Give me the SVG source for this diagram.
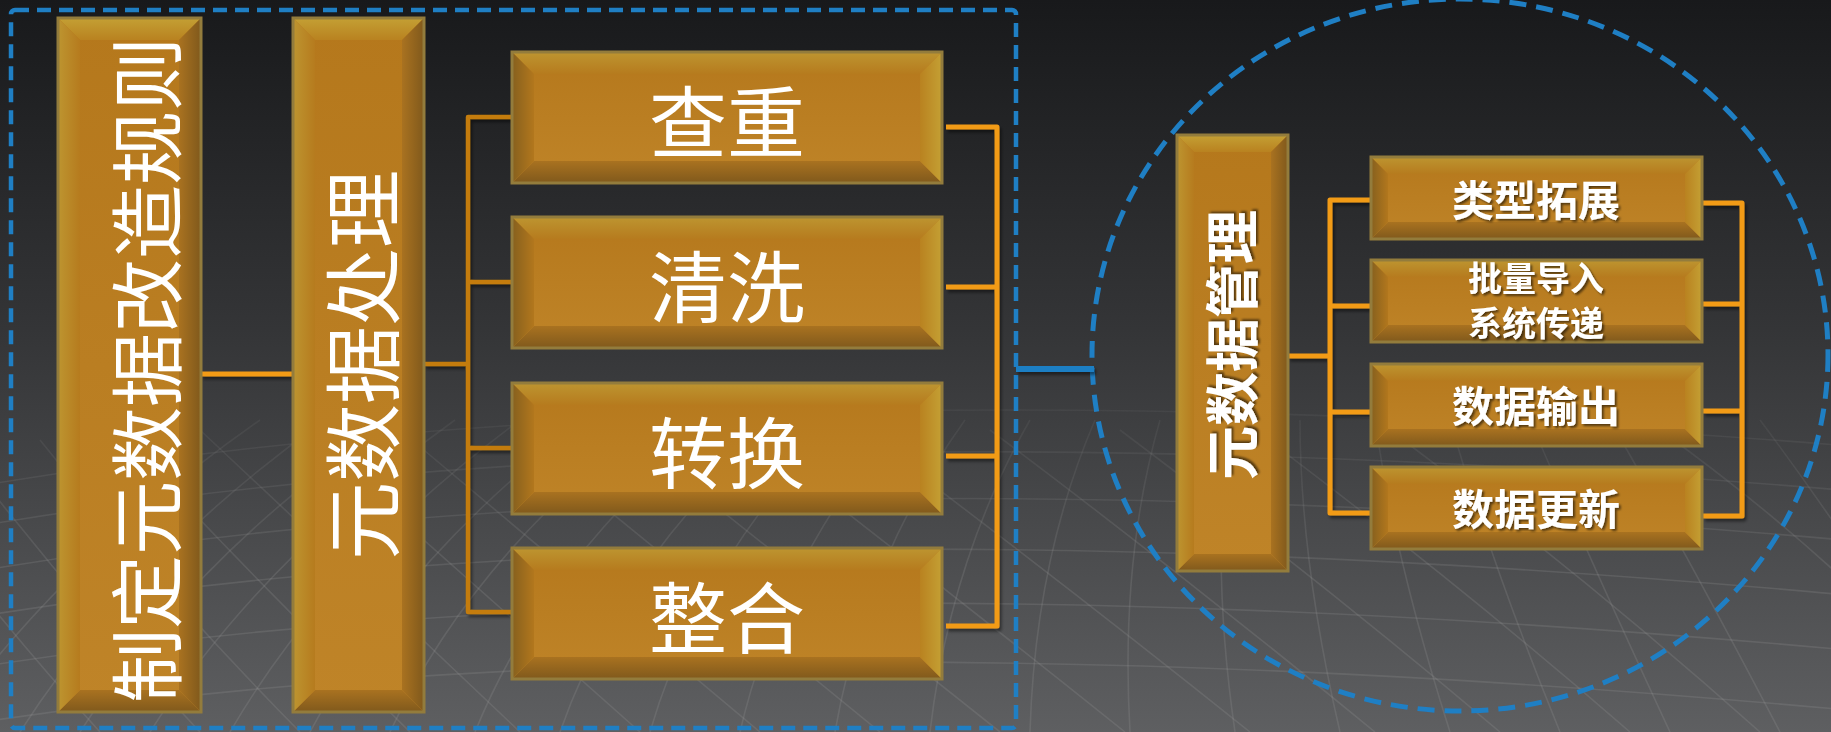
<svg xmlns="http://www.w3.org/2000/svg" xmlns:xlink="http://www.w3.org/1999/xlink" width="1831" height="732" viewBox="0 0 1831 732">
<style>
.bt{fill:url(#gTop)}.bb{fill:url(#gBot)}.bl{fill:url(#gLeft)}.br{fill:url(#gRight)}
.vt{fill:url(#gTopV)}.vl{fill:url(#gLeftV)}.vr{fill:url(#gRightV)}
.face{fill:url(#gFace)}
.edge{fill:none;stroke:#937c3c;stroke-width:3}
.t{font-family:"Noto Sans CJK SC","Noto Sans",sans-serif;fill:#ffffff;text-anchor:middle;dominant-baseline:central}
.tb{font-weight:700;filter:url(#tsh)}
.c1{fill:none;stroke:#f29b17;stroke-width:5;stroke-linejoin:round}
.c2{fill:none;stroke:#c47c0e;stroke-width:4.5;stroke-linejoin:round}
.dash{fill:none;stroke:#1f7fc4}
.mesh path{fill:none;stroke:#a0a0a2;stroke-width:1.6;opacity:.2}
</style>
<defs>
<linearGradient id="bg" x1="0" y1="0" x2="0" y2="1">
<stop offset="0" stop-color="#18191b"/><stop offset=".45" stop-color="#343537"/><stop offset="1" stop-color="#5e5f61"/>
</linearGradient>
<linearGradient id="meshFade" x1="0" y1="0" x2="0" y2="1">
<stop offset=".4" stop-color="#000"/><stop offset=".78" stop-color="#fff"/><stop offset="1" stop-color="#fff"/>
</linearGradient>
<mask id="mmask"><rect width="1831" height="732" fill="url(#meshFade)"/></mask>
<linearGradient id="gFace" x1="0" y1="0" x2="0" y2="1">
<stop offset="0" stop-color="#b5781c"/><stop offset="1" stop-color="#bf8428"/>
</linearGradient>
<linearGradient id="gTop" x1="0" y1="0" x2="0" y2="1"><stop offset="0" stop-color="#bd9530"/><stop offset="1" stop-color="#b67b1e"/></linearGradient>
<linearGradient id="gBot" x1="0" y1="0" x2="0" y2="1"><stop offset="0" stop-color="#a97220"/><stop offset="1" stop-color="#80591c"/></linearGradient>
<linearGradient id="gLeft" x1="0" y1="0" x2="1" y2="0"><stop offset="0" stop-color="#86601e"/><stop offset="1" stop-color="#b2771d"/></linearGradient>
<linearGradient id="gRight" x1="0" y1="0" x2="1" y2="0"><stop offset="0" stop-color="#b98220"/><stop offset="1" stop-color="#c4a034"/></linearGradient>
<linearGradient id="gTopV" x1="0" y1="0" x2="0" y2="1"><stop offset="0" stop-color="#c4a034"/><stop offset="1" stop-color="#b98220"/></linearGradient>
<linearGradient id="gLeftV" x1="0" y1="0" x2="1" y2="0"><stop offset="0" stop-color="#bd9530"/><stop offset="1" stop-color="#b67b1e"/></linearGradient>
<linearGradient id="gRightV" x1="0" y1="0" x2="1" y2="0"><stop offset="0" stop-color="#a97220"/><stop offset="1" stop-color="#80591c"/></linearGradient>
<filter id="tsh" x="-10%" y="-20%" width="130%" height="150%"><feDropShadow dx="2" dy="2" stdDeviation="1.2" flood-color="#000" flood-opacity=".55"/></filter>
<filter id="lsh" x="-5%" y="-5%" width="110%" height="110%"><feDropShadow dx="2" dy="3" stdDeviation="1.5" flood-color="#000" flood-opacity=".45"/></filter>
<g id="hbox">
<rect class="face" x="0" y="0" width="430" height="131"/>
<polygon class="bt" points="0,0 430,0 408,22 22,22"/>
<polygon class="bb" points="0,131 430,131 408,109 22,109"/>
<polygon class="bl" points="0,0 22,22 22,109 0,131"/>
<polygon class="br" points="430,0 408,22 408,109 430,131"/>
<rect class="edge" x="0" y="0" width="430" height="131"/>
</g>
<g id="sbox">
<rect class="face" x="0" y="0" width="331" height="82"/>
<polygon class="bt" points="0,0 331,0 314,17 17,17"/>
<polygon class="bb" points="0,82 331,82 314,65 17,65"/>
<polygon class="bl" points="0,0 17,17 17,65 0,82"/>
<polygon class="br" points="331,0 314,17 314,65 331,82"/>
<rect class="edge" x="0" y="0" width="331" height="82"/>
</g>
<g id="vboxA">
<rect class="face" x="0" y="0" width="143" height="694"/>
<polygon class="vt" points="0,0 143,0 121,22 22,22"/>
<polygon class="bb" points="0,694 143,694 121,672 22,672"/>
<polygon class="vl" points="0,0 22,22 22,672 0,694"/>
<polygon class="vr" points="143,0 121,22 121,672 143,694"/>
<rect class="edge" x="0" y="0" width="143" height="694"/>
</g>
<g id="vboxB">
<rect class="face" x="0" y="0" width="131" height="694"/>
<polygon class="vt" points="0,0 131,0 109,22 22,22"/>
<polygon class="bb" points="0,694 131,694 109,672 22,672"/>
<polygon class="vl" points="0,0 22,22 22,672 0,694"/>
<polygon class="vr" points="131,0 109,22 109,672 131,694"/>
<rect class="edge" x="0" y="0" width="131" height="694"/>
</g>
<g id="mbox">
<rect class="face" x="0" y="0" width="111" height="436"/>
<polygon class="vt" points="0,0 111,0 94,17 17,17"/>
<polygon class="bb" points="0,436 111,436 94,419 17,419"/>
<polygon class="vl" points="0,0 17,17 17,419 0,436"/>
<polygon class="vr" points="111,0 94,17 94,419 111,436"/>
<rect class="edge" x="0" y="0" width="111" height="436"/>
</g>
</defs>

<rect width="1831" height="732" fill="url(#bg)"/>
<g class="mesh" mask="url(#mmask)">
<path d="M-100,500 Q700,350 1900,450"/>
<path d="M-100,540 Q700,390 1900,495"/>
<path d="M-100,585 Q700,435 1900,545"/>
<path d="M-100,630 Q700,485 1900,600"/>
<path d="M-100,680 Q700,540 1900,655"/>
<path d="M-100,735 Q700,600 1900,715"/>
<path d="M-60,732 Q60,560 260,420"/>
<path d="M20,732 Q130,560 325,420"/>
<path d="M80,732 Q190,560 390,420"/>
<path d="M150,732 Q260,560 455,420"/>
<path d="M230,732 Q330,560 520,420"/>
<path d="M310,732 Q400,560 585,420"/>
<path d="M390,732 Q470,560 650,420"/>
<path d="M475,732 Q545,560 715,420"/>
<path d="M560,732 Q620,560 780,420"/>
<path d="M650,732 Q700,560 840,420"/>
<path d="M740,732 Q780,560 900,420"/>
<path d="M835,732 Q865,560 965,420"/>
<path d="M930,732 Q950,560 1030,420"/>
<path d="M1030,732 Q1035,560 1095,420"/>
<path d="M1130,732 Q1120,560 1160,420"/>
<path d="M1235,732 Q1210,560 1230,420"/>
<path d="M1340,732 Q1300,560 1300,420"/>
<path d="M1450,732 Q1395,560 1375,420"/>
<path d="M1560,732 Q1490,560 1450,420"/>
<path d="M1670,732 Q1590,560 1530,420"/>
<path d="M1780,732 Q1690,560 1610,420"/>
<path d="M1950,700 Q1850,540 1760,420"/>
<path d="M100,732 Q-20,600 -120,460"/>
<path d="M200,732 Q70,595 -40,450"/>
<path d="M300,732 Q160,590 40,440"/>
<path d="M410,732 Q260,585 120,435"/>
<path d="M520,732 Q360,580 200,430"/>
<path d="M640,732 Q470,580 300,430"/>
<path d="M760,732 Q580,580 400,430"/>
<path d="M880,732 Q695,580 510,430"/>
<path d="M1000,732 Q810,580 620,430"/>
<path d="M1125,732 Q935,580 740,430"/>
<path d="M1250,732 Q1060,580 860,430"/>
<path d="M1375,732 Q1190,580 990,430"/>
<path d="M1500,732 Q1320,580 1120,430"/>
<path d="M1630,732 Q1455,580 1255,430"/>
<path d="M1760,732 Q1590,580 1390,430"/>
<path d="M1960,700 Q1840,560 1660,430"/>
</g>

<g id="frames">
<rect class="dash" x="11" y="10" width="1005" height="718" rx="4" stroke-width="4.5" stroke-dasharray="14 8"/>
<ellipse class="dash" cx="1460" cy="355" rx="368" ry="356" stroke-width="5" stroke-dasharray="17 10"/>
</g>

<g id="connectors" filter="url(#lsh)">
<line x1="1016" y1="369" x2="1094" y2="369" stroke="#1f7fc4" stroke-width="6"/>
<line class="c1" x1="201" y1="374" x2="293" y2="374"/>
<path class="c2" d="M424,364 H468 M512,117 H468 V612 H512 M468,282 H512 M468,448 H512"/>
<path class="c1" d="M946,127 H997 V626 H946 M946,287 H997 M946,456 H997"/>
<path class="c1" d="M1288,356 H1330 M1371,200 H1330 V513 H1371 M1330,306 H1371 M1330,412 H1371"/>
<path class="c1" d="M1703,203 H1742 V516 H1703 M1703,304 H1742 M1703,411 H1742"/>
</g>

<g id="node-rules">
<use xlink:href="#vboxA" x="58" y="18"/>
<text class="t" font-size="74" transform="translate(142,370) rotate(-90)">制定元数据改造规则</text>
</g>
<g id="node-process">
<use xlink:href="#vboxB" x="293" y="18"/>
<text class="t" font-size="78" transform="translate(359,365) rotate(-90)">元数据处理</text>
</g>
<g id="node-dedup">
<use xlink:href="#hbox" x="512" y="52"/>
<text class="t" font-size="78" x="727" y="117.5">查重</text>
</g>
<g id="node-clean">
<use xlink:href="#hbox" x="512" y="217"/>
<text class="t" font-size="78" x="727" y="282.5">清洗</text>
</g>
<g id="node-convert">
<use xlink:href="#hbox" x="512" y="383"/>
<text class="t" font-size="78" x="727" y="448.5">转换</text>
</g>
<g id="node-integrate">
<use xlink:href="#hbox" x="512" y="548"/>
<text class="t" font-size="78" x="727" y="613.5">整合</text>
</g>
<g id="node-manage">
<use xlink:href="#mbox" x="1177" y="135"/>
<text class="t tb" font-size="54" transform="translate(1229,345) rotate(-90)">元数据管理</text>
</g>
<g id="node-type">
<use xlink:href="#sbox" x="1371" y="157"/>
<text class="t tb" font-size="42" x="1536" y="197">类型拓展</text>
</g>
<g id="node-import">
<use xlink:href="#sbox" x="1371" y="260"/>
<text class="t tb" font-size="34"><tspan x="1536" y="276">批量导入</tspan><tspan x="1536" y="321">系统传递</tspan></text>
</g>
<g id="node-output">
<use xlink:href="#sbox" x="1371" y="364"/>
<text class="t tb" font-size="42" x="1536" y="403">数据输出</text>
</g>
<g id="node-update">
<use xlink:href="#sbox" x="1371" y="467"/>
<text class="t tb" font-size="42" x="1536" y="506">数据更新</text>
</g>
</svg>
